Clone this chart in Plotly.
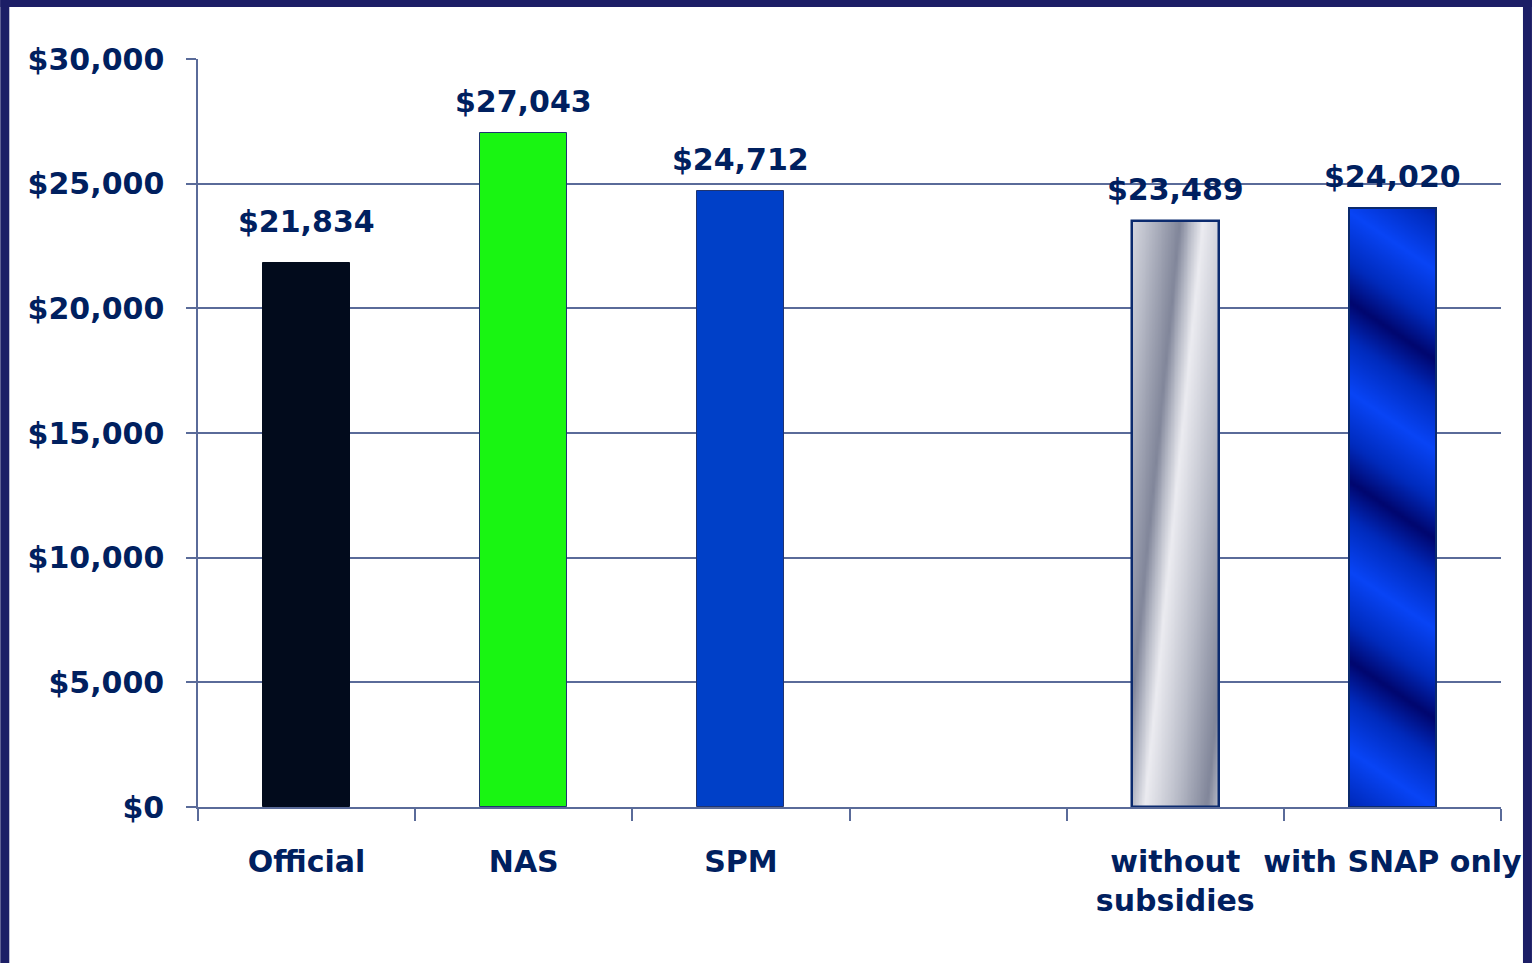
import numpy as np
import plotly.graph_objects as go

# ---- data -------------------------------------------------------------
categories = ["Official", "NAS", "SPM", "", "without<br>subsidies", "with SNAP only"]
values = [21834, 27043, 24712, None, 23489, 24020]
y_ticks = [0, 5000, 10000, 15000, 20000, 25000, 30000]

# ---- styling ----------------------------------------------------------
NAVY = "#00205f"
FRAME = "#1c1e66"
GRID = "#5a6b99"
FONT = "DejaVu Sans"
BAR_W = 0.4
Y_MAX = 30000

solid_fill = ["#020b1c", "#19f512", "#0040c8", None, "rgba(0,0,0,0)", "rgba(0,0,0,0)"]
outline = ["#020b1c", "#1f3470", "#1f3470", None, "#0b2a6e", "#0b2a6e"]
outline_w = [1, 1, 1, None, 2.5, 2]
texture = [None, None, None, None, "silver", "blue"]
label_lift = [22, 12, 12, None, 12, 12]   # px between bar top and its value label

SILVER_SCALE = [[0.0, "#81869a"], [0.5, "#babdc9"], [1.0, "#ececf1"]]
BLUE_SCALE = [[0.0, "#00066e"], [0.5, "#002cc0"], [1.0, "#0947fc"]]

positions = list(range(len(categories)))
bars = [(p, v, c, lc, lw) for p, v, c, lc, lw in
        zip(positions, values, solid_fill, outline, outline_w) if v is not None]

fig = go.Figure()


def metallic_texture(xc, top, kind):
    """Shaded fill for a bar: diagonal bands over the bar rectangle."""
    x_edges = np.linspace(xc - BAR_W / 2, xc + BAR_W / 2, 61)
    y_edges = np.linspace(0, top, 241)
    u = (x_edges[:-1] + x_edges[1:]) / 2
    u = (u - (xc - BAR_W / 2)) / BAR_W            # 0..1 across the bar
    ym = (y_edges[:-1] + y_edges[1:]) / 2
    U, Y = np.meshgrid(u, ym)
    if kind == "silver":
        h = Y / top
        dark = 0.55 - 0.67 * (1 - h)               # band drifts left going down
        p = ((U - dark) / 0.98) % 1.0
        z = np.interp(p, [0, 0.27, 0.6, 1.0], [0.0, 1.0, 0.55, 0.0])
        scale = SILVER_SCALE
    else:
        period = 0.24 * Y_MAX
        tilt = 0.078 * Y_MAX                        # bands fall toward the right
        p = ((Y + tilt * U - 0.196 * Y_MAX) / period) % 1.0
        z = np.interp(p, [0, 0.2, 0.5, 0.8, 1.0], [0.0, 0.45, 0.95, 0.45, 0.0])
        scale = BLUE_SCALE
    return go.Heatmap(x=x_edges, y=y_edges, z=z, zmin=0, zmax=1,
                      colorscale=scale, showscale=False, zsmooth="best",
                      hoverinfo="skip")


for p, v, t in zip(positions, values, texture):
    if v is not None and t is not None:
        fig.add_trace(metallic_texture(p, v, t))

fig.add_trace(go.Bar(
    x=[b[0] for b in bars],
    y=[b[1] for b in bars],
    width=BAR_W,
    marker=dict(color=[b[2] for b in bars],
                line=dict(color=[b[3] for b in bars], width=[b[4] for b in bars])),
    hovertemplate="%{y:$,}<extra></extra>",
))

# value labels above the bars
for p, v, lift in zip(positions, values, label_lift):
    if v is None:
        continue
    fig.add_annotation(x=p, y=v, text=f"${v:,}", showarrow=False,
                       yanchor="bottom", yshift=lift,
                       font=dict(family=FONT, size=30, color=NAVY, weight="bold"))

# frame around the slide (pixel geometry converted to paper units)
W, H = 1534, 963
ML, MR, MT, MB = 198, 31, 59, 156
pw, ph = W - ML - MR, H - MT - MB


def px_x(px):
    return (px - ML) / pw


def px_y(py):
    return (H - MB - py) / ph


for x0, x1, y0, y1 in [(0, 9, 0, H), (1525, W, 0, H), (0, W, 0, 7)]:
    fig.add_shape(type="rect", xref="paper", yref="paper",
                  x0=px_x(x0), x1=px_x(x1), y0=px_y(y1), y1=px_y(y0),
                  fillcolor=FRAME, line=dict(width=0), layer="above")

fig.update_layout(
    width=W, height=H,
    margin=dict(l=ML, r=MR, t=MT, b=MB),
    paper_bgcolor="white", plot_bgcolor="white",
    showlegend=False,
    bargap=0,
    font=dict(family=FONT, color=NAVY),
    xaxis=dict(
        range=[-0.5, len(categories) - 0.5],
        tickmode="array", tickvals=positions, ticktext=categories,
        ticks="", showgrid=False, zeroline=False,
        showline=True, linecolor=GRID, linewidth=1.5,
        tickfont=dict(family=FONT, size=30, color=NAVY, weight="bold"),
        ticklabelstandoff=27,
        minor=dict(tickmode="array",
                   tickvals=[p - 0.5 for p in positions] + [positions[-1] + 0.5],
                   ticks="outside", ticklen=12, tickwidth=1.5, tickcolor=GRID,
                   showgrid=False),
    ),
    yaxis=dict(
        range=[0, Y_MAX],
        tickmode="array", tickvals=y_ticks,
        ticktext=[f"${t:,}" for t in y_ticks],
        showgrid=True, gridcolor=GRID, gridwidth=1.5,
        ticks="outside", ticklen=10, tickwidth=1.5, tickcolor=GRID,
        showline=True, linecolor=GRID, linewidth=1.5, zeroline=False,
        tickfont=dict(family=FONT, size=30, color=NAVY, weight="bold"),
        ticklabelstandoff=16,
    ),
)

fig.write_html("out.html")
